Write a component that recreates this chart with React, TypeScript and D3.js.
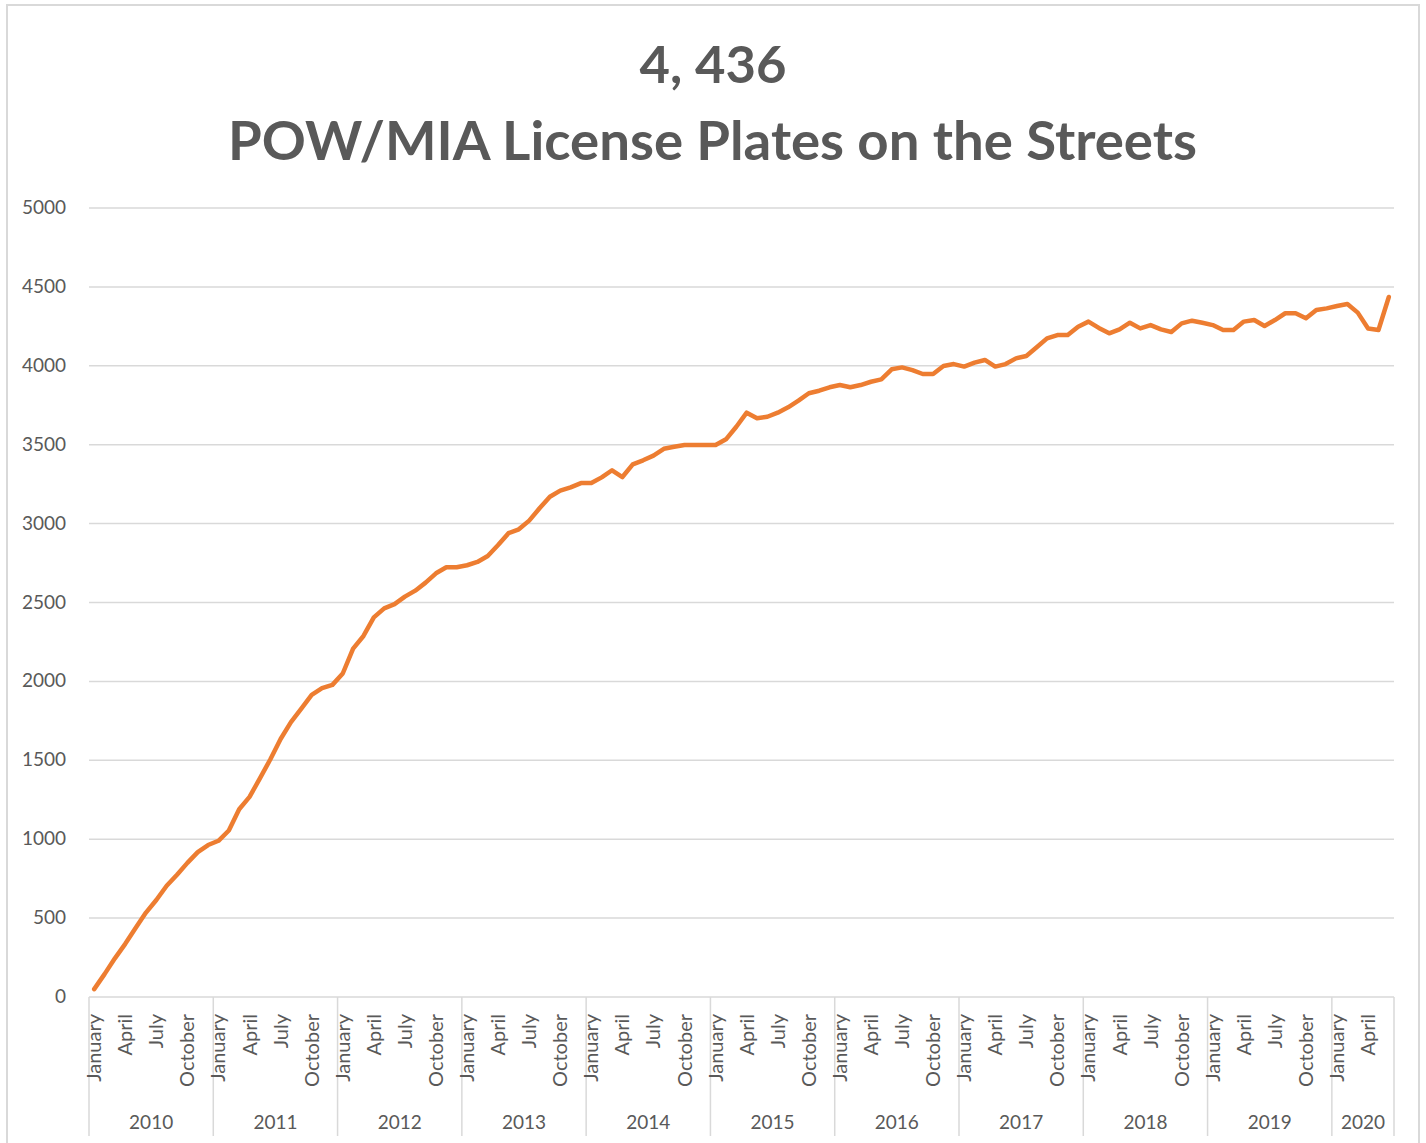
import React from 'react';
import * as d3 from 'd3';

// plates on the street, one value per month, Jan 2010 .. Jun 2020
const years = ['2010', '2011', '2012', '2013', '2014', '2015', '2016', '2017', '2018', '2019', '2020'];
const monthNames = ['January', 'February', 'March', 'April', 'May', 'June', 'July', 'August', 'September', 'October', 'November', 'December'];
const shownMonths = ['January', 'April', 'July', 'October'];
const yTicks = [0, 500, 1000, 1500, 2000, 2500, 3000, 3500, 4000, 4500, 5000];

const v2010 = [50, 145, 245, 337, 437, 535, 615, 705, 775, 850, 918, 963];
const v2011 = [990, 1055, 1190, 1268, 1386, 1505, 1635, 1742, 1828, 1914, 1957, 1978];
const v2012 = [2050, 2208, 2288, 2406, 2463, 2490, 2537, 2575, 2626, 2685, 2723, 2723];
const v2013 = [2736, 2757, 2795, 2864, 2939, 2964, 3019, 3097, 3170, 3209, 3230, 3257];
const v2014 = [3257, 3293, 3338, 3295, 3375, 3401, 3431, 3474, 3487, 3498, 3498, 3498];
const v2015 = [3498, 3534, 3614, 3703, 3667, 3677, 3703, 3737, 3779, 3826, 3842, 3864];
const v2016 = [3878, 3864, 3878, 3899, 3914, 3978, 3990, 3973, 3948, 3948, 3999, 4011];
const v2017 = [3995, 4020, 4037, 3995, 4011, 4047, 4062, 4117, 4174, 4195, 4195, 4248];
const v2018 = [4280, 4240, 4206, 4231, 4273, 4237, 4258, 4231, 4214, 4269, 4286, 4273];
const v2019 = [4258, 4227, 4227, 4280, 4290, 4252, 4290, 4333, 4333, 4301, 4354, 4364];
const v2020 = [4379, 4392, 4337, 4237, 4227, 4436];

const byYear = [v2010, v2011, v2012, v2013, v2014, v2015, v2016, v2017, v2018, v2019, v2020];

const W = 1426;
const H = 1143;
const gray = '#595959';
const gridColor = '#d9d9d9';
const font = 'Lato, "Open Sans", sans-serif';

export default function App() {
  const points = byYear.flatMap((vals, yi) =>
    vals.map((v, mi) => ({ key: `${years[yi]}-${mi}`, year: years[yi], month: monthNames[mi], value: v }))
  );

  const left = 89;
  const right = 1394;
  const top = 208;
  const bottom = 997;
  const axisBottom = 1136;

  const x = d3.scaleBand().domain(points.map(p => p.key)).range([left, right]).padding(0);
  const y = d3.scaleLinear().domain([0, 5000]).range([bottom, top]);
  const cx = (k: string) => (x(k) as number) + x.bandwidth() / 2;

  const line = d3.line<any>()
    .x(d => cx(d.key))
    .y(d => y(d.value));

  // year group boundaries
  const groups = years.map((yr, yi) => {
    const first = `${yr}-0`;
    const last = `${yr}-${byYear[yi].length - 1}`;
    const x0 = x(first) as number;
    const x1 = (x(last) as number) + x.bandwidth();
    return { yr, x0, x1 };
  });

  return (
    <svg width={W} height={H} style={{ position: 'absolute', left: 0, top: 0, background: '#fff' }}>
      <rect x={7} y={5} width={1412} height={1150} fill="#fff" stroke={gridColor} strokeWidth={2} />

      <text x={713} y={83} textAnchor="middle" fontFamily={font} fontWeight={700} fontSize={52} fill={gray}
        textLength={147} lengthAdjust="spacingAndGlyphs">4, 436</text>
      <text x={712.5} y={160} textAnchor="middle" fontFamily={font} fontWeight={700} fontSize={54} fill={gray}
        textLength={969} lengthAdjust="spacingAndGlyphs">POW/MIA License Plates on the Streets</text>

      {yTicks.map(t => (
        <g key={t}>
          <line x1={left} x2={right} y1={y(t)} y2={y(t)} stroke={gridColor} strokeWidth={1.5} />
          <text x={66} y={y(t) + 6} textAnchor="end" fontFamily={font} fontSize={19} fill={gray}>{t}</text>
        </g>
      ))}

      {groups.map((g, i) => (
        <g key={g.yr}>
          <line x1={g.x0} x2={g.x0} y1={bottom} y2={axisBottom} stroke={gridColor} strokeWidth={1.5} />
          {i === groups.length - 1 && (
            <line x1={g.x1} x2={g.x1} y1={bottom} y2={axisBottom} stroke={gridColor} strokeWidth={1.5} />
          )}
          <text x={(g.x0 + g.x1) / 2} y={1129} textAnchor="middle" fontFamily={font} fontSize={19} fill={gray}>{g.yr}</text>
        </g>
      ))}

      {points.filter(p => shownMonths.includes(p.month)).map(p => (
        <text key={p.key} transform={`translate(${cx(p.key) + 7},1014) rotate(-90)`} textAnchor="end"
          fontFamily={font} fontSize={20} fill={gray}>{p.month}</text>
      ))}

      <path d={line(points) as string} fill="none" stroke="#ED7D31" strokeWidth={4.5} strokeLinejoin="round" strokeLinecap="round" />
    </svg>
  );
}
